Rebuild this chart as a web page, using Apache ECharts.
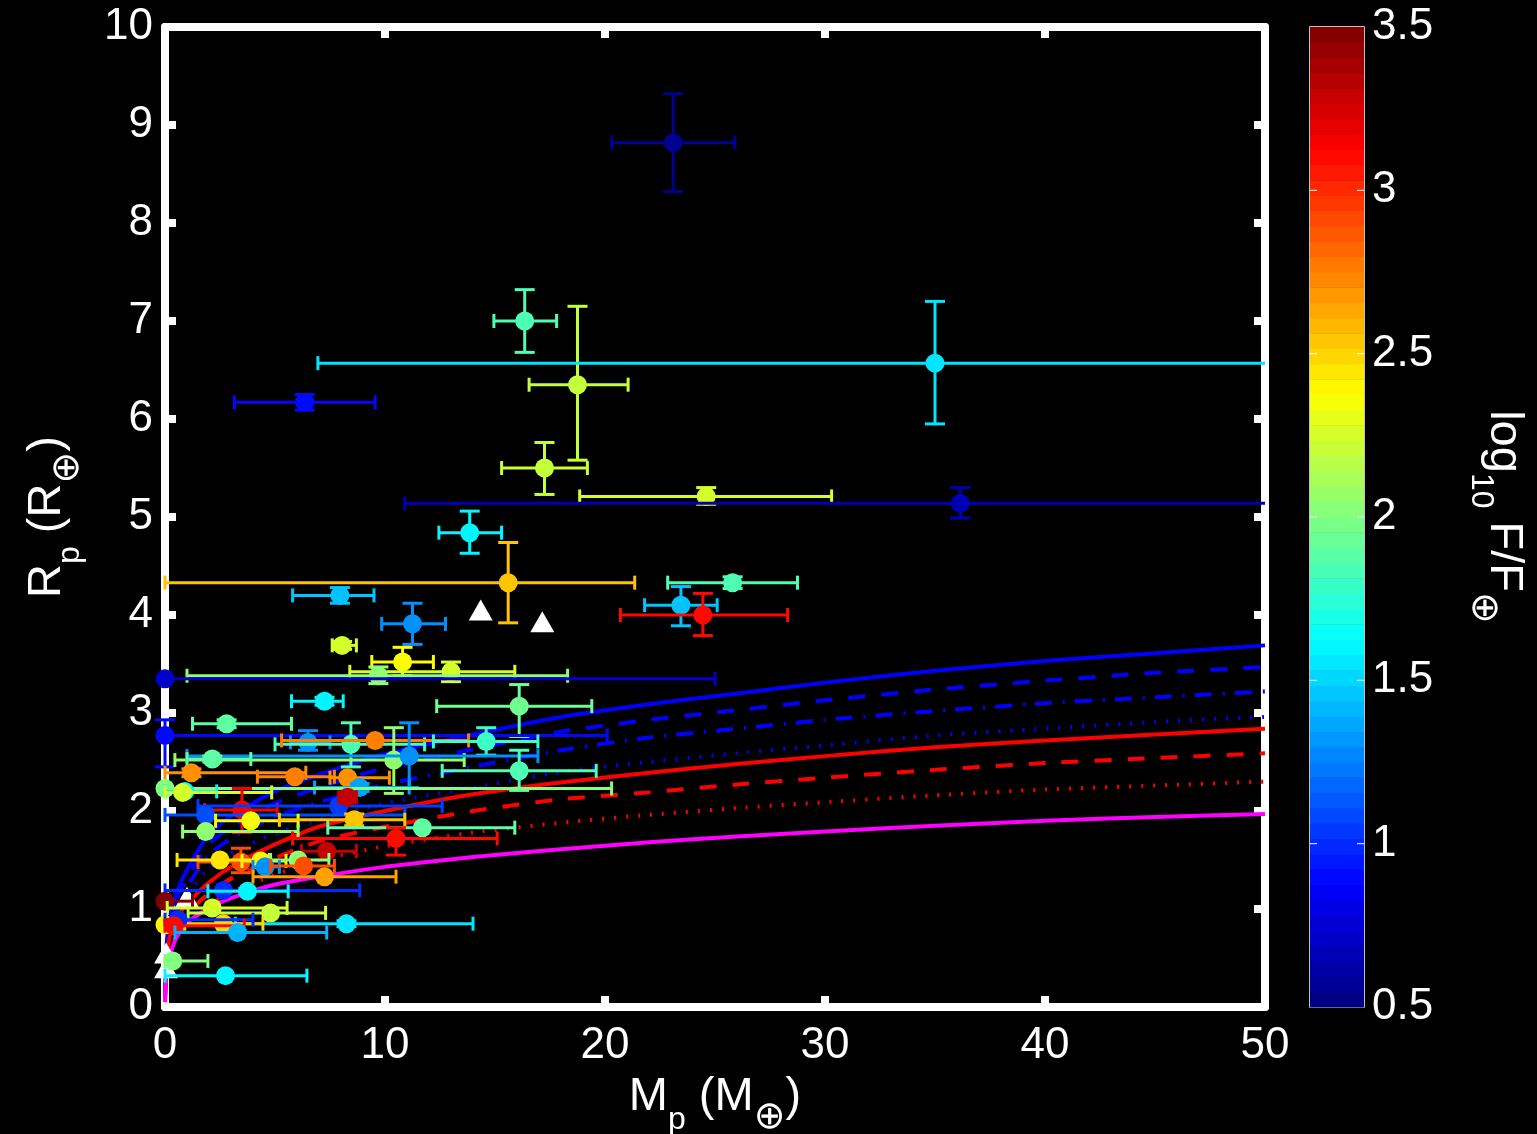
<!DOCTYPE html>
<html>
<head>
  <meta charset="utf-8" />
  <title>Mass-radius</title>
  <script src="https://cdn.jsdelivr.net/npm/echarts@6.0.0/dist/echarts.min.js"></script>
  <style>body{margin:0;background:#000}</style>
</head>
<body>
  <div id="main" style="width:1537px;height:1134px;"></div>
  <script type="text/javascript">
    // planets: mass, radius (earth units) with error ranges, colour = log10 incident flux
    var mass    = [23.1,16.35,18.75,35.0,6.35,17.25,24.6,36.15,13.85,15.6,7.95,25.8,23.45,24.45,11.25,8.05,10.8,13.0,9.7,0.0,7.25,16.1,2.8,0.0,6.5,8.45,9.55,14.6,10.4,11.1,2.15,16.1,1.2,5.9,8.3,8.85,0.0,0.9,0.8,3.5,7.9,1.85,3.9,8.6,8.3,11.7,1.85,10.5,7.35,3.45,2.5,4.35,6.05,4.55,6.3,7.25,2.65,3.75,0.0,2.15,4.8,8.25,2.65,0.0,0.6,0.4,3.3,0.35,2.75]
    var massLo  = [20.3,14.95,16.55,6.95,3.15,15.3,18.85,10.9,12.45,0.0,5.8,22.85,21.8,20.7,9.85,7.6,9.4,8.4,1.0,0.0,5.75,12.35,1.25,0.0,5.7,5.0,5.3,12.2,0.45,1.0,1.0,12.6,0.0,4.2,7.5,6.8,0.0,0.0,0.0,1.8,1.5,0.0,2.3,5.2,7.9,7.4,0.8,5.8,6.2,1.5,0.55,3.5,4.8,4.0,4.8,4.0,0.0,1.95,0.0,0.1,1.05,3.2,0.9,0.0,0.0,0.0,0.45,0.0,0.0]
    var massHi  = [25.9,17.8,21.05,62,9.55,19.2,30.3,62,15.3,21.35,9.5,28.75,25.1,28.3,12.75,8.7,12.2,15.9,18.3,25.0,8.1,19.4,5.75,20.1,7.5,11.8,13.8,16.95,13.6,16.95,3.9,19.6,6.4,7.7,10.2,11.1,20.3,2.35,4.85,5.1,12.6,10.9,6.05,10.9,8.7,15.9,6.05,15.1,8.7,4.75,4.75,5.5,7.45,5.2,7.7,10.5,8.85,5.6,1.25,5.55,7.3,14.0,4.45,0.0,4.0,3.6,7.35,1.95,6.45]
    var radius  = [8.82,7.0,6.35,6.57,6.17,5.5,5.21,5.14,4.84,4.33,4.2,4.33,4.1,4.0,3.91,3.69,3.52,3.42,3.38,3.35,3.12,3.07,2.89,2.77,2.7,2.68,2.72,2.71,2.52,2.56,2.53,2.41,2.39,2.35,2.34,2.24,2.23,2.2,2.19,2.01,2.05,1.96,1.9,1.91,2.14,1.83,1.79,1.72,1.59,1.48,1.5,1.49,1.5,1.43,1.44,1.33,1.19,1.18,1.08,1.01,0.96,0.85,0.85,0.84,0.89,0.83,0.76,0.47,0.32]
    var radLo   = [8.32,6.68,5.58,5.95,6.09,5.23,5.13,4.99,4.63,3.92,4.12,4.27,3.89,3.79,3.7,3.65,3.38,3.32,3.3,3.35,3.08,2.76,2.85,2.45,2.62,2.45,2.72,2.57,2.18,2.24,2.5,2.21,2.35,2.35,2.34,2.2,2.23,2.2,2.19,1.78,2.05,1.96,1.9,1.85,2.1,1.83,1.79,1.55,1.59,1.37,1.5,1.49,1.5,1.43,1.44,1.33,1.19,1.18,1.08,1.01,0.96,0.82,0.85,0.84,0.89,0.83,0.76,0.47,0.32]
    var radHi   = [9.32,7.32,7.15,7.2,6.25,5.76,5.3,5.3,5.06,4.74,4.28,4.39,4.29,4.22,4.12,3.73,3.67,3.52,3.47,3.35,3.16,3.29,2.93,2.93,2.82,2.9,2.72,2.85,2.85,2.9,2.56,2.62,2.43,2.35,2.34,2.28,2.23,2.2,2.19,2.23,2.05,1.96,1.9,1.97,2.18,1.83,1.79,1.83,1.59,1.62,1.5,1.49,1.5,1.43,1.44,1.33,1.19,1.18,1.08,1.01,0.96,0.88,0.85,0.84,0.89,0.83,0.76,0.47,0.32]
    var logFlux = [0.55,1.85,2.2,1.55,0.9,2.2,2.25,0.65,1.6,2.55,1.45,1.85,1.45,3.1,1.3,2.25,2.38,2.25,2.05,0.72,1.6,1.95,1.9,0.9,1.3,1.85,2.75,1.8,2.05,1.3,1.9,1.85,2.7,2.75,2.7,1.35,2.0,1.6,2.25,3.15,1.05,1.1,2.35,2.55,3.3,1.9,2.05,3.1,3.3,2.9,2.45,2.4,2.05,1.3,2.9,2.65,1.0,1.6,3.5,2.25,2.2,1.55,2.5,2.4,1.0,3.1,1.4,2.0,1.6]

    // planets without measured mass (white triangles)
    var triMass = [14.35, 17.15, 1.0, 0.05, 0.05]
    var triRad  = [4.05, 3.93, 1.12, 0.55, 0.40]

    // model mass-radius curves
    var curveMass   = [0.002,0.05,0.2,0.5,1,2,3,5,7,10,14,18,22,26,30,35,40,45,50]
    var blueSolid   = [0.12,0.55,0.9,1.15,1.4,1.76,1.95,2.2,2.37,2.58,2.78,2.96,3.09,3.2,3.31,3.43,3.53,3.61,3.69]
    var blueDashed  = [0.11,0.52,0.85,1.09,1.32,1.66,1.84,2.08,2.24,2.44,2.63,2.81,2.93,3.03,3.13,3.24,3.33,3.41,3.47]
    var blueDashDot = [0.1,0.48,0.79,1.01,1.23,1.55,1.72,1.94,2.09,2.27,2.45,2.62,2.75,2.84,2.93,3.02,3.1,3.16,3.22]
    var blueDotted  = [0.1,0.44,0.72,0.93,1.13,1.42,1.57,1.77,1.91,2.08,2.24,2.4,2.5,2.59,2.67,2.77,2.84,2.91,2.96]
    var redSolid    = [0.1,0.42,0.7,0.9,1.05,1.27,1.43,1.66,1.84,2.0,2.17,2.29,2.39,2.48,2.56,2.65,2.72,2.78,2.84]
    var redDashed   = [0.09,0.38,0.64,0.82,0.96,1.16,1.31,1.52,1.69,1.84,2.0,2.12,2.19,2.27,2.34,2.42,2.49,2.54,2.59]
    var redDotted   = [0.08,0.34,0.57,0.73,0.86,1.04,1.17,1.35,1.5,1.64,1.78,1.88,1.96,2.03,2.09,2.16,2.22,2.26,2.3]
    var magenta     = [0.05,0.3,0.5,0.7,0.86,1.01,1.11,1.25,1.33,1.43,1.53,1.61,1.68,1.74,1.79,1.85,1.9,1.94,1.97]

    // colorbar tick positions (inner marks)
    var colorbarTicks = [1, 1.5, 2, 2.5, 3]

    var fluxMin = 0.5, fluxMax = 3.5, nLevels = 64
    var font = 'Liberation Sans, Arial, Helvetica, sans-serif'

    function clamp(v) { return Math.max(0, Math.min(1, v)) }
    // matlab jet colormap
    function jet(v) {
      var t = clamp((v - fluxMin) / (fluxMax - fluxMin))
      var r = clamp(1.5 - Math.abs(4 * t - 3))
      var g = clamp(1.5 - Math.abs(4 * t - 2))
      var b = clamp(1.5 - Math.abs(4 * t - 1))
      return 'rgb(' + Math.round(r * 255) + ',' + Math.round(g * 255) + ',' + Math.round(b * 255) + ')'
    }

    var planets = mass.map(function (m, i) {
      return [m, massLo[i], massHi[i], radius[i], radLo[i], radHi[i], logFlux[i]]
    })
    var triangles = triMass.map(function (m, i) { return [m, triRad[i]] })
    function curve(arr) { return curveMass.map(function (m, i) { return [m, arr[i]] }) }

    // colorbar bands
    var bands = []
    for (var i = 0; i < nLevels; i++) {
      var lo = fluxMin + (fluxMax - fluxMin) * i / nLevels
      bands.push([lo, lo + (fluxMax - fluxMin) / nLevels])
    }

    var white = '#ffffff'
    var lbl = { color: white, fontSize: 44, fontFamily: font }
    var richName = {
      n: { color: white, fontSize: 47, fontFamily: font, lineHeight: 52 },
      s: { color: white, fontSize: 32, fontFamily: font, padding: [46, 0, 0, 0] },
      o: { color: white, fontSize: 38, fontFamily: 'DejaVu Sans', padding: [42, 0, 0, 0] }
    }

    function curveSeries(data, color, type) {
      return {
        type: 'line', data: curve(data), xAxisIndex: 0, yAxisIndex: 0,
        showSymbol: false, symbol: 'none', smooth: 0.2, z: 1, silent: true,
        lineStyle: { color: color, width: 4, type: type, cap: 'butt' }
      }
    }

    var myChart = echarts.init(document.getElementById('main'))

    var option = {
      backgroundColor: '#000000',
      animation: false,
      grid: [
        { left: 165, right: 272, top: 27, bottom: 127, outerBoundsMode: 'none', containLabel: false },
        { left: 1310, width: 54, top: 27, bottom: 127, outerBoundsMode: 'none', containLabel: false,
          show: true, borderColor: white, borderWidth: 1.5 }
      ],
      xAxis: [
        {
          type: 'value', gridIndex: 0, min: 0, max: 50, interval: 10, position: 'bottom',
          name: '{n|M}{s|p}{n| (M}{o|⊕}{n|)}', nameLocation: 'middle', nameGap: 50,
          nameTextStyle: { rich: richName },
          axisLine: { show: true, onZero: false, lineStyle: { color: white, width: 8 } },
          axisTick: { show: true, inside: true, length: 11, lineStyle: { color: white, width: 8 } },
          axisLabel: Object.assign({ margin: 17 }, lbl),
          splitLine: { show: false }
        },
        {
          type: 'value', gridIndex: 0, min: 0, max: 50, interval: 10, position: 'top',
          axisLine: { show: true, onZero: false, lineStyle: { color: white, width: 8 } },
          axisTick: { show: true, inside: true, length: 11, lineStyle: { color: white, width: 8 } },
          axisLabel: { show: false }, splitLine: { show: false }
        },
        {
          type: 'value', gridIndex: 1, min: 0, max: 1, show: false
        }
      ],
      yAxis: [
        {
          type: 'value', gridIndex: 0, min: 0, max: 10, interval: 1, position: 'left',
          name: '{n|R}{s|p}{n| (R}{o|⊕}{n|)}', nameLocation: 'middle', nameGap: 78,
          nameTextStyle: { rich: richName },
          axisLine: { show: true, onZero: false, lineStyle: { color: white, width: 8 } },
          axisTick: { show: true, inside: true, length: 11, lineStyle: { color: white, width: 8 } },
          axisLabel: Object.assign({ margin: 12 }, lbl),
          splitLine: { show: false }
        },
        {
          type: 'value', gridIndex: 0, min: 0, max: 10, interval: 1, position: 'right',
          axisLine: { show: true, onZero: false, lineStyle: { color: white, width: 8 } },
          axisTick: { show: true, inside: true, length: 11, lineStyle: { color: white, width: 8 } },
          axisLabel: { show: false }, splitLine: { show: false }
        },
        {
          type: 'value', gridIndex: 1, min: fluxMin, max: fluxMax, interval: 0.5, position: 'right',
          name: '{n|log}{s|10}{n| F/F}{o|⊕}', nameLocation: 'middle', nameGap: 100, nameRotate: -90,
          nameTextStyle: { rich: richName },
          axisLine: { show: false },
          axisTick: { show: false },
          axisLabel: Object.assign({ margin: 8 }, lbl),
          splitLine: { show: false }
        }
      ],
      series: [
        curveSeries(blueSolid, '#0000ff', 'solid'),
        curveSeries(blueDashed, '#0000ff', [17, 16]),
        curveSeries(blueDashDot, '#0000ff', [17, 11, 2, 10]),
        curveSeries(blueDotted, '#0000ff', [2, 10]),
        curveSeries(redSolid, '#ff0000', 'solid'),
        curveSeries(redDashed, '#ff0000', [17, 16]),
        curveSeries(redDotted, '#ff0000', [2, 10]),
        curveSeries(magenta, '#ff00ff', 'solid'),
        {
          type: 'scatter', xAxisIndex: 0, yAxisIndex: 0, data: triangles, z: 2,
          symbol: 'triangle', symbolSize: [24, 21], itemStyle: { color: white, opacity: 1 }
        },
        {
          // error bars and markers, drawn per planet so later ones overlap earlier
          type: 'custom', xAxisIndex: 0, yAxisIndex: 0, data: planets, z: 3,
          encode: { x: 0, y: 3 },
          renderItem: function (params, api) {
            var cs = params.coordSys
            var xMax = cs.x + cs.width
            var x = api.value(0), y = api.value(3)
            var col = jet(api.value(6))
            var c = api.coord([x, y])
            var l = api.coord([api.value(1), y])
            var r = api.coord([api.value(2), y])
            var b = api.coord([x, api.value(4)])
            var t = api.coord([x, api.value(5)])
            var st = { stroke: col, lineWidth: 3 }
            var kids = []
            var rx = Math.min(r[0], xMax)
            if (rx - l[0] > 1) {
              kids.push({ type: 'line', shape: { x1: l[0], y1: c[1], x2: rx, y2: c[1] }, style: st })
              kids.push({ type: 'line', shape: { x1: l[0], y1: c[1] - 7, x2: l[0], y2: c[1] + 7 }, style: st })
              if (r[0] <= xMax) {
                kids.push({ type: 'line', shape: { x1: r[0], y1: c[1] - 7, x2: r[0], y2: c[1] + 7 }, style: st })
              }
            }
            if (b[1] - t[1] > 1) {
              kids.push({ type: 'line', shape: { x1: c[0], y1: t[1], x2: c[0], y2: b[1] }, style: st })
              kids.push({ type: 'line', shape: { x1: c[0] - 10, y1: t[1], x2: c[0] + 10, y2: t[1] }, style: st })
              kids.push({ type: 'line', shape: { x1: c[0] - 10, y1: b[1], x2: c[0] + 10, y2: b[1] }, style: st })
            }
            kids.push({ type: 'circle', shape: { cx: c[0], cy: c[1], r: 9.5 }, style: { fill: col } })
            return { type: 'group', children: kids }
          }
        },
        {
          // colorbar
          type: 'custom', xAxisIndex: 2, yAxisIndex: 2, data: bands, silent: true, z: 1,
          encode: { y: [0, 1] },
          renderItem: function (params, api) {
            var p0 = api.coord([0, api.value(0)])
            var p1 = api.coord([1, api.value(1)])
            return {
              type: 'rect',
              shape: { x: p0[0], y: p1[1], width: p1[0] - p0[0], height: p0[1] - p1[1] + 0.5 },
              style: { fill: jet((api.value(0) + api.value(1)) / 2) }
            }
          }
        },
        {
          // colorbar inner tick marks on both edges
          type: 'custom', xAxisIndex: 2, yAxisIndex: 2, silent: true, z: 4,
          data: colorbarTicks.map(function (v) { return [v] }),
          encode: { y: 0 },
          renderItem: function (params, api) {
            var p0 = api.coord([0, api.value(0)])
            var p1 = api.coord([1, api.value(0)])
            var st = { stroke: white, lineWidth: 1 }
            return {
              type: 'group',
              children: [
                { type: 'line', shape: { x1: p0[0], y1: p0[1], x2: p0[0] + 7, y2: p0[1] }, style: st },
                { type: 'line', shape: { x1: p1[0] - 7, y1: p1[1], x2: p1[0], y2: p1[1] }, style: st }
              ]
            }
          }
        }
      ]
    }

    myChart.setOption(option)
  </script>
</body>
</html>
